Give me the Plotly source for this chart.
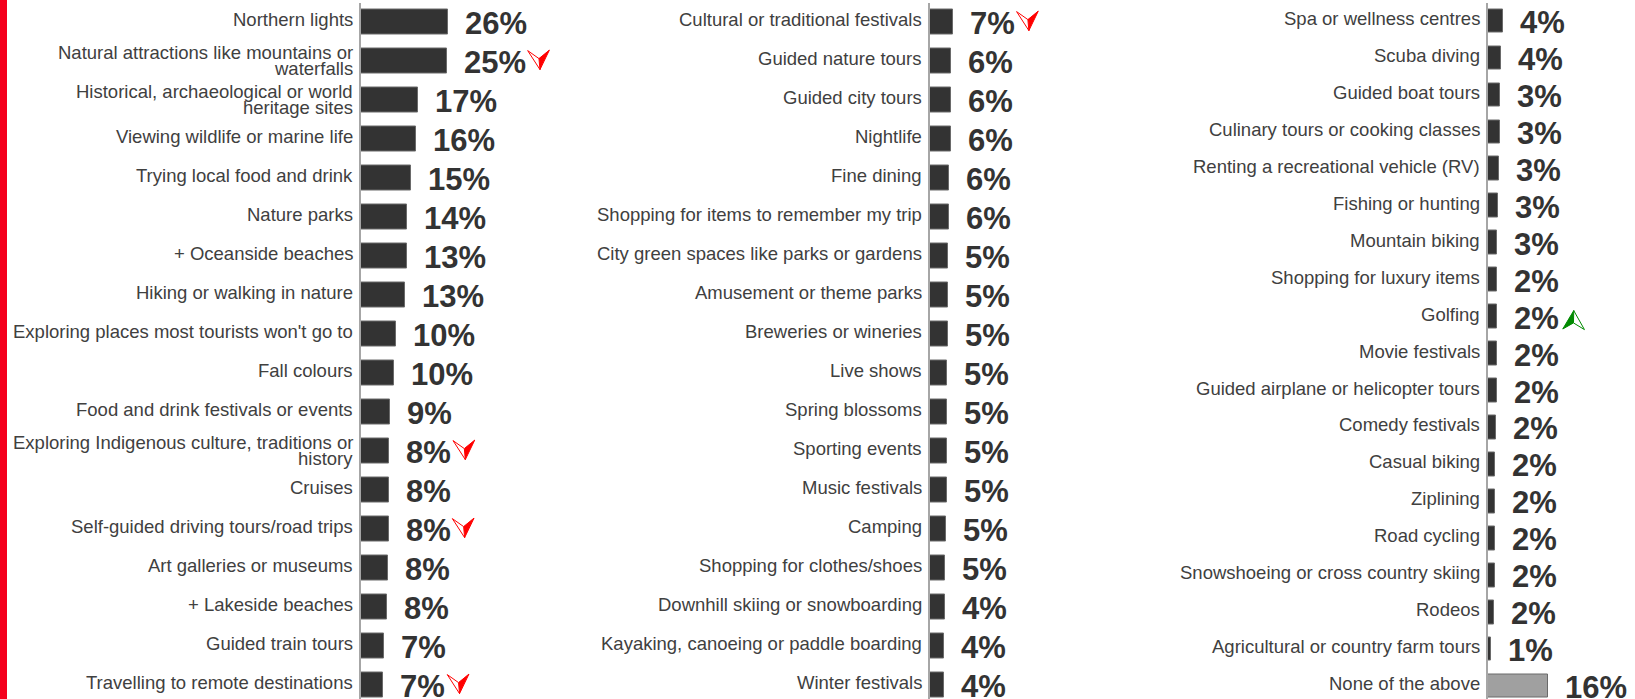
import plotly.graph_objects as go

# ---------------- data ----------------
left_cats = [
    "Northern lights",
    "Natural attractions like mountains or<br>waterfalls",
    "Historical, archaeological or world<br>heritage sites",
    "Viewing wildlife or marine life",
    "Trying local food and drink",
    "Nature parks",
    "+ Oceanside beaches",
    "Hiking or walking in nature",
    "Exploring places most tourists won't go to",
    "Fall colours",
    "Food and drink festivals or events",
    "Exploring Indigenous culture, traditions or<br>history",
    "Cruises",
    "Self-guided driving tours/road trips",
    "Art galleries or museums",
    "+ Lakeside beaches",
    "Guided train tours",
    "Travelling to remote destinations",
]
left_vals = [25.6, 25.2, 16.9, 16.2, 14.6, 13.6, 13.4, 12.8, 10.4, 9.6, 8.5, 8.3, 8.3, 8.1, 7.8, 7.6, 6.8, 6.6]
left_labels = ["26%", "25%", "17%", "16%", "15%", "14%", "13%", "13%", "10%", "10%",
               "9%", "8%", "8%", "8%", "8%", "8%", "7%", "7%"]
left_trend = ["", "down", "", "", "", "", "", "", "", "", "", "down", "", "down", "", "", "", "down"]

mid_cats = [
    "Cultural or traditional festivals",
    "Guided nature tours",
    "Guided city tours",
    "Nightlife",
    "Fine dining",
    "Shopping for items to remember my trip",
    "City green spaces like parks or gardens",
    "Amusement or theme parks",
    "Breweries or wineries",
    "Live shows",
    "Spring blossoms",
    "Sporting events",
    "Music festivals",
    "Camping",
    "Shopping for clothes/shoes",
    "Downhill skiing or snowboarding",
    "Kayaking, canoeing or paddle boarding",
    "Winter festivals",
]
mid_vals = [6.7, 6.3, 6.1, 6.1, 5.7, 5.5, 5.2, 5.2, 5.2, 5.0, 5.0, 5.0, 5.0, 4.7, 4.5, 4.3, 4.1, 4.1]
mid_labels = ["7%", "6%", "6%", "6%", "6%", "6%", "5%", "5%", "5%", "5%", "5%", "5%", "5%",
              "5%", "5%", "4%", "4%", "4%"]
mid_trend = ["down"] + [""] * 17

right_cats = [
    "Spa or wellness centres",
    "Scuba diving",
    "Guided boat tours",
    "Culinary tours or cooking classes",
    "Renting a recreational vehicle (RV)",
    "Fishing or hunting",
    "Mountain biking",
    "Shopping for luxury items",
    "Golfing",
    "Movie festivals",
    "Guided airplane or helicopter tours",
    "Comedy festivals",
    "Casual biking",
    "Ziplining",
    "Road cycling",
    "Snowshoeing or cross country skiing",
    "Rodeos",
    "Agricultural or country farm tours",
    "None of the above",
]
right_vals = [3.9, 3.5, 3.3, 3.2, 2.9, 2.6, 2.5, 2.4, 2.4, 2.4, 2.3, 2.1, 2.0, 2.0, 1.9, 1.9, 1.7, 0.8, 16.0]
right_labels = ["4%", "4%", "3%", "3%", "3%", "3%", "3%", "2%", "2%", "2%", "2%", "2%", "2%",
                "2%", "2%", "2%", "2%", "1%", "16%"]
right_trend = [""] * 8 + ["up"] + [""] * 10

# ---------------- layout constants ----------------
W, H = 1635, 699
TOP_PX = 2.5
BAR_COLOR = "#333333"
NONE_COLOR = "#a0a0a0"
TEXT_COLOR = "#404040"
VAL_COLOR = "#333333"
AXIS_COLOR = "#a6a6a6"
FONT = "Liberation Sans, Arial, sans-serif"
VAL_SIZE = 31

panels = [
    dict(cats=left_cats, vals=left_vals, labels=left_labels, trend=left_trend,
         x0=361, scale=3.40, c0=21.6, pitch=39.0, xend=700),
    dict(cats=mid_cats, vals=mid_vals, labels=mid_labels, trend=mid_trend,
         x0=930, scale=3.40, c0=21.6, pitch=39.0, xend=1200),
    dict(cats=right_cats, vals=right_vals, labels=right_labels, trend=right_trend,
         x0=1488, scale=3.73, c0=21.0, pitch=36.95, xend=1635),
]


def text_width(s, size=VAL_SIZE):
    w = 0
    for ch in s:
        w += 0.889 if ch == "%" else 0.556
    return w * size


def mk(pts):
    return "M " + " L ".join(f"{a:.1f},{b:.1f}" for a, b in pts) + " Z"


fig = go.Figure()
annotations = []
shapes = []
layout_axes = {}

for k, p in enumerate(panels):
    sfx = "" if k == 0 else str(k + 1)
    xa, ya = "x" + sfx, "y" + sfx
    n = len(p["cats"])
    idx = list(range(n))
    colors = [BAR_COLOR] * n
    if p["cats"][-1] == "None of the above":
        colors[-1] = NONE_COLOR
    fig.add_trace(go.Bar(
        x=p["vals"], y=idx, orientation="h", width=0.64,
        marker=dict(color=colors, line=dict(color="#6a6a6a", width=1)),
        xaxis=xa, yaxis=ya, showlegend=False, hoverinfo="skip",
    ))
    xr = (p["xend"] - p["x0"]) / p["scale"]
    i_top = (TOP_PX - p["c0"]) / p["pitch"]
    i_bot = (H - p["c0"]) / p["pitch"]
    layout_axes["xaxis" + sfx] = dict(
        domain=[p["x0"] / W, p["xend"] / W], range=[0, xr], visible=False,
        anchor=ya, fixedrange=True)
    layout_axes["yaxis" + sfx] = dict(
        domain=[0, 1 - TOP_PX / H], range=[i_bot, i_top], anchor=xa,
        showticklabels=False, showgrid=False, zeroline=False, ticks="",
        showline=True, linecolor=AXIS_COLOR, linewidth=2, fixedrange=True)

    for i, (cat, v, lab, tr) in enumerate(zip(p["cats"], p["vals"], p["labels"], p["trend"])):
        lines = cat.split("<br>")
        shifts = [2.5] if len(lines) == 1 else [8.5, -7.5]
        for line, ys in zip(lines, shifts):
            annotations.append(dict(
                x=0, y=i, xref=xa, yref=ya, text=line, showarrow=False,
                xanchor="right", yanchor="middle", xshift=-6, yshift=ys,
                font=dict(family=FONT, size=18.5, color=TEXT_COLOR)))
        annotations.append(dict(
            x=v, y=i, xref=xa, yref=ya, text="<b>" + lab + "</b>", showarrow=False,
            xanchor="left", yanchor="middle", xshift=15, yshift=-1.5,
            font=dict(family=FONT, size=VAL_SIZE, color=VAL_COLOR)))
        if tr:
            L = 16 + text_width(lab) + (3 if tr == "down" else 5)
            if tr == "down":
                col = "#ff0000"
                wl, wr, tip, notch = (L, 10), (L + 21.7, 10.5), (L + 12.3, -9), (L + 11.3, 2)
                outline = [wl, notch, tip]
                filled = [notch, wr, tip]
            else:
                col = "#008a00"
                tip, wl, wr, notch = (L + 11, 6), (L, -12.4), (L + 21.7, -13), (L + 10.7, -6.3)
                filled = [wl, notch, tip]
                outline = [notch, wr, tip]
            shapes.append(dict(type="path", xref=xa, yref=ya, xsizemode="pixel",
                               ysizemode="pixel", xanchor=v, yanchor=i, path=mk(filled),
                               fillcolor=col, line=dict(color=col, width=1)))
            shapes.append(dict(type="path", xref=xa, yref=ya, xsizemode="pixel",
                               ysizemode="pixel", xanchor=v, yanchor=i, path=mk(outline),
                               fillcolor="white", line=dict(color=col, width=1)))

# red bar at the left edge
shapes.append(dict(type="rect", xref="paper", yref="paper", x0=0, x1=7 / W, y0=0, y1=1,
                   fillcolor="#f5001c", line=dict(width=0), layer="above"))

fig.update_layout(
    width=W, height=H,
    margin=dict(l=0, r=0, t=0, b=0, autoexpand=False),
    paper_bgcolor="white", plot_bgcolor="white",
    annotations=annotations, shapes=shapes,
    bargap=0, showlegend=False,
    **layout_axes,
)

fig.write_html("out.html", config={"displayModeBar": False})

# remove the browser's default page margin so the figure sits at the window corner
with open("out.html", "r", encoding="utf-8") as f:
    html = f.read()
html = html.replace("<head>", "<head><style>html,body{margin:0;padding:0;overflow:hidden;}</style>", 1)
with open("out.html", "w", encoding="utf-8") as f:
    f.write(html)
